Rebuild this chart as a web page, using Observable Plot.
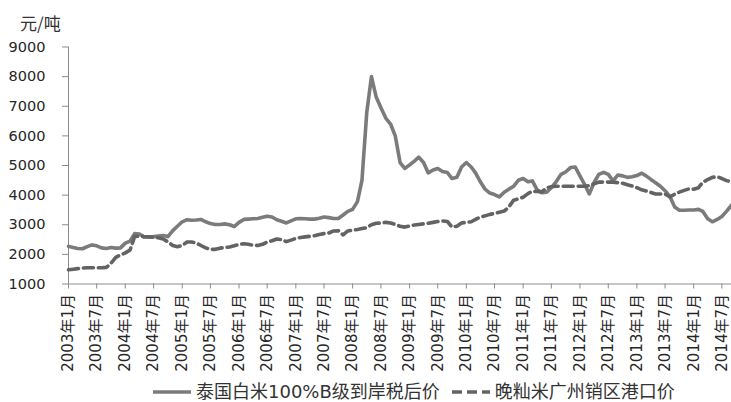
<!DOCTYPE html>
<html>
<head>
<meta charset="utf-8">
<script src="https://cdn.jsdelivr.net/npm/d3@7"></script>
<script src="https://cdn.jsdelivr.net/npm/@observablehq/plot@0.6"></script>
<style>
  html, body { margin: 0; padding: 0; background: #fff; }
  #wrap { position: relative; width: 731px; height: 402px; overflow: hidden; }
  #unit { position: absolute; left: 20px; top: 10px; font: 17px "Noto Sans CJK SC", "DejaVu Sans", sans-serif; color: #333; }
  #legend { position: absolute; left: 152px; top: 381px; height: 21px; display: flex; align-items: center;
            font: 18px/21px "DejaVu Sans", "Noto Sans CJK SC", sans-serif; color: #333; white-space: nowrap; }
  #legend .item { display: flex; align-items: center; height: 21px; margin-right: 11px; }
  #legend span { line-height: 21px; }
  #legend svg { margin-right: 4px; }
</style>
</head>
<body>
<div id="wrap">
  <div id="chart"></div>
  <div id="unit">元/吨</div>
  <div id="legend"></div>
</div>
<script>
// Series names
const seriesNames = ["泰国白米100%B级到岸税后价", "晚籼米广州销区港口价"];
const unitLabel = "元/吨";

// Monthly values from 2003年1月 to 2014年9月
const thaiRice = [
  2270,2230,2200,2190,2260,2320,2290,2220,2200,2230,2210,2220,
  2380,2450,2700,2690,2590,2590,2600,2620,2640,2600,2800,2950,
  3100,3170,3150,3160,3180,3100,3040,3010,3010,3030,3000,2940,
  3080,3180,3190,3200,3210,3250,3290,3260,3170,3120,3060,3130,
  3200,3210,3200,3190,3190,3220,3260,3240,3210,3210,3330,3450,
  3520,3780,4500,6800,8000,7300,6950,6600,6400,6000,5100,4900,
  5020,5150,5280,5100,4750,4850,4900,4800,4760,4560,4600,4950,
  5100,4950,4750,4450,4200,4070,4020,3940,4100,4200,4300,4500,
  4560,4450,4480,4180,4080,4100,4250,4450,4700,4780,4930,4950,
  4650,4350,4040,4430,4700,4770,4700,4480,4680,4650,4600,4620,
  4660,4740,4650,4530,4420,4300,4150,3950,3600,3490,3490,3500,
  3500,3520,3450,3200,3100,3180,3280,3460,3660
];
const guangzhouRice = [
  1480,1500,1520,1540,1550,1550,1550,1550,1560,1700,1900,1980,
  2050,2150,2600,2620,2600,2590,2580,2560,2520,2420,2300,2260,
  2300,2420,2420,2380,2300,2220,2170,2170,2210,2230,2250,2290,
  2340,2360,2340,2310,2300,2340,2420,2460,2520,2500,2430,2480,
  2540,2570,2590,2610,2630,2670,2700,2720,2790,2800,2660,2790,
  2820,2840,2870,2900,3000,3050,3060,3080,3060,3010,2950,2920,
  2960,2990,3010,3030,3050,3080,3110,3130,3110,2920,2950,3060,
  3080,3100,3180,3260,3300,3350,3380,3420,3460,3600,3830,3870,
  3930,4050,4130,4120,4110,4250,4280,4300,4300,4300,4300,4300,
  4300,4300,4320,4380,4440,4440,4440,4440,4420,4400,4350,4310,
  4250,4180,4140,4090,4040,4040,4040,3940,4030,4100,4160,4210,
  4200,4250,4440,4520,4600,4620,4560,4490,4440
];

// Tick labels
const xTickLabels = [
  "2003年1月","2003年7月","2004年1月","2004年7月","2005年1月","2005年7月",
  "2006年1月","2006年7月","2007年1月","2007年7月","2008年1月","2008年7月",
  "2009年1月","2009年7月","2010年1月","2010年7月","2011年1月","2011年7月",
  "2012年1月","2012年7月","2013年1月","2013年7月","2014年1月","2014年7月"
];
const yTicks = [1000,2000,3000,4000,5000,6000,7000,8000,9000];

const startMonth = new Date(Date.UTC(2003, 0, 1));
const endMonth = new Date(Date.UTC(2014, 8, 1));

const rows = thaiRice.map((v, i) => ({
  date: d3.utcMonth.offset(startMonth, i),
  thai: v,
  gz: guangzhouRice[i]
}));

const parseLabel = s => { const [y, m] = s.match(/\d+/g); return new Date(Date.UTC(+y, +m - 1, 1)); };
const tickDates = xTickLabels.map(parseLabel);
const labelByTime = new Map(tickDates.map((d, i) => [+d, xTickLabels[i]]));

const axisColor = "#8c8c8c";
const textColor = "#262626";
const solidColor = "#7b7b7b";
const dashColor = "#636363";

const chart = Plot.plot({
  width: 731,
  height: 378,
  marginLeft: 68,
  marginRight: 0,
  marginTop: 46.5,
  marginBottom: 94.5,
  style: { fontFamily: "'DejaVu Sans', 'Noto Sans CJK SC', sans-serif", fontSize: "14.5px", background: "#fff", overflow: "visible" },
  x: { type: "utc", domain: [startMonth, endMonth] },
  y: { domain: [1000, 9000] },
  marks: [
    Plot.axisY({ ticks: yTicks, tickSize: 6, tickPadding: 17, stroke: axisColor, fill: textColor, label: null, tickFormat: d => String(d) }),
    Plot.axisX({ ticks: tickDates, tickSize: 5, tickPadding: 5, tickRotate: -90, stroke: axisColor, fill: textColor, label: null, fontSize: 15, tickFormat: d => labelByTime.get(+d) }),
    Plot.ruleY([1000], { stroke: axisColor, strokeWidth: 1 }),
    Plot.ruleX([startMonth], { stroke: axisColor, strokeWidth: 1 }),
    Plot.lineY(rows, { x: "date", y: "thai", stroke: solidColor, strokeWidth: 3.6, strokeLinejoin: "round", strokeLinecap: "round" }),
    Plot.lineY(rows, { x: "date", y: "gz", stroke: dashColor, strokeWidth: 3.6, strokeDasharray: "10,5", strokeLinejoin: "round" })
  ]
});
document.getElementById("chart").appendChild(chart);

// Legend
const legend = document.getElementById("legend");
[[solidColor, null], [dashColor, "10,5"]].forEach(([c, dash], i) => {
  const item = document.createElement("div");
  item.className = "item";
  item.innerHTML = `<svg width="40" height="8"><line x1="1" y1="4" x2="39" y2="4" stroke="${c}" stroke-width="3.5" ${dash ? `stroke-dasharray="${dash}"` : ""}/></svg><span>${seriesNames[i]}</span>`;
  legend.appendChild(item);
});
</script>
</body>
</html>
